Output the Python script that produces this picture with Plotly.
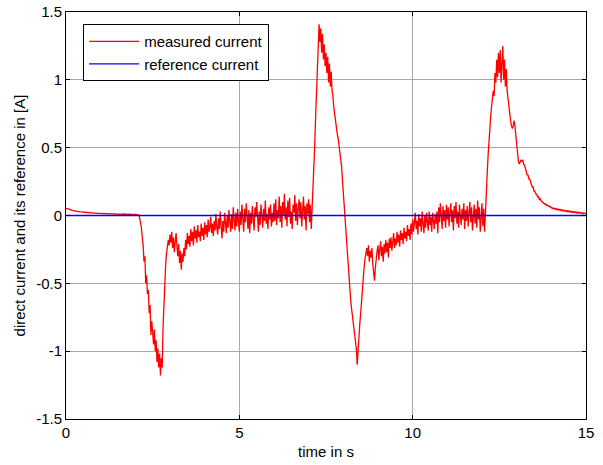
import numpy as np
import plotly.graph_objects as go

# sampled measured current, one value every 0.025 s from 0 to 15 s
dt = 0.025
current = [
    # 0.000 - 0.975
    0.053, 0.050, 0.049, 0.046, 0.046, 0.042, 0.041, 0.038, 0.038, 0.035,
    0.035, 0.032, 0.033, 0.030, 0.031, 0.028, 0.029, 0.027, 0.027, 0.025,
    0.026, 0.023, 0.024, 0.022, 0.023, 0.021, 0.022, 0.020, 0.021, 0.019,
    0.020, 0.018, 0.019, 0.017, 0.018, 0.016, 0.017, 0.016, 0.017, 0.015,
    # 1.000 - 1.975
    0.016, 0.014, 0.016, 0.013, 0.015, 0.014, 0.012, 0.015, 0.013, 0.012,
    0.014, 0.011, 0.013, 0.012, 0.010, 0.013, 0.011, 0.012, 0.010, 0.012,
    0.011, 0.009, 0.012, 0.010, 0.011, 0.009, 0.011, 0.010, 0.008, 0.011,
    0.009, 0.010, 0.008, 0.010, 0.009, 0.007, 0.010, 0.008, 0.009, 0.007,
    # 2.000 - 2.975
    0.009, 0.007, 0.008, 0.006, 0.004, -0.02, -0.05, -0.09, -0.16, -0.22,
    -0.34, -0.30, -0.50, -0.44, -0.58, -0.55, -0.72, -0.66, -0.88, -0.78,
    -0.86, -0.95, -0.84, -1.00, -0.92, -1.08, -0.98, -1.12, -1.02, -1.18,
    -1.05, -1.12, -0.82, -0.62, -0.44, -0.36, -0.28, -0.24, -0.18, -0.22,
    # 3.000 - 3.975
    -0.14, -0.20, -0.12, -0.24, -0.16, -0.27, -0.19, -0.13, -0.22, -0.30,
    -0.21, -0.35, -0.26, -0.40, -0.28, -0.34, -0.24, -0.30, -0.18, -0.25,
    -0.13, -0.21, -0.15, -0.23, -0.10, -0.19, -0.12, -0.22, -0.08, -0.17,
    -0.11, -0.20, -0.07, -0.16, -0.12, -0.19, -0.06, -0.15, -0.09, -0.18,
    # 4.000 - 4.975
    -0.05, -0.14, -0.07, -0.16, -0.03, -0.12, -0.09, -0.01, -0.13, -0.06,
    -0.15, -0.04, -0.11, 0.01, -0.09, -0.14, -0.02, -0.10, 0.03, -0.08,
    -0.17, -0.04, -0.12, 0.02, -0.07, -0.13, 0.00, -0.09, 0.04, -0.06,
    -0.12, 0.01, -0.10, 0.06, -0.05, -0.11, 0.02, -0.08, 0.05, -0.04,
    # 5.000 - 5.975
    -0.12, 0.03, -0.07, 0.08, -0.03, -0.12, 0.05, -0.05, 0.09, -0.02,
    -0.10, 0.04, -0.13, 0.02, -0.06, 0.07, -0.04, -0.11, 0.06, -0.01,
    0.10, -0.05, -0.12, 0.03, -0.07, 0.08, -0.02, -0.09, 0.05, -0.04,
    0.11, -0.06, 0.01, -0.10, 0.06, -0.03, 0.08, -0.08, 0.02, -0.05,
    # 6.000 - 6.975
    0.09, -0.04, 0.12, -0.07, 0.04, -0.02, 0.14, -0.05, 0.07, -0.09,
    0.10, 0.00, 0.16, -0.03, 0.06, -0.08, 0.11, -0.01, 0.13, -0.06,
    0.03, -0.10, 0.08, 0.02, 0.15, -0.04, 0.09, -0.07, 0.05, 0.12,
    -0.02, 0.10, -0.08, 0.06, 0.14, -0.03, 0.07, -0.11, 0.09, 0.01,
    # 7.000 - 7.975
    0.12, -0.05, 0.08, -0.10, 0.04, 0.14, 0.30, 0.52, 0.72, 0.90,
    1.12, 1.38, 1.41, 1.28, 1.38, 1.20, 1.34, 1.15, 1.26, 1.10,
    1.20, 1.05, 1.17, 0.98, 1.12, 0.95, 1.06, 0.92, 0.88, 0.80,
    0.74, 0.70, 0.64, 0.60, 0.57, 0.52, 0.48, 0.44, 0.36, 0.26,
    # 8.000 - 8.975
    0.16, 0.08, 0.02, -0.08, -0.20, -0.34, -0.45, -0.52, -0.58, -0.66,
    -0.72, -0.76, -0.80, -0.86, -0.93, -0.98, -1.10, -0.96, -0.90, -0.80,
    -0.72, -0.62, -0.52, -0.45, -0.38, -0.32, -0.28, -0.24, -0.30, -0.22,
    -0.34, -0.26, -0.31, -0.24, -0.36, -0.42, -0.48, -0.38, -0.30, -0.26,
    # 9.000 - 9.975
    -0.22, -0.33, -0.25, -0.19, -0.30, -0.23, -0.34, -0.21, -0.28, -0.18,
    -0.27, -0.20, -0.31, -0.17, -0.24, -0.16, -0.26, -0.19, -0.13, -0.24,
    -0.17, -0.22, -0.12, -0.20, -0.14, -0.23, -0.11, -0.18, -0.13, -0.21,
    -0.09, -0.17, -0.12, -0.19, -0.07, -0.15, -0.10, -0.18, -0.06, -0.14,
    # 10.000 - 10.975
    -0.03, -0.12, -0.05, 0.02, -0.10, -0.04, -0.14, 0.01, -0.08, -0.02,
    -0.12, 0.03, -0.06, -0.13, 0.00, -0.09, 0.02, -0.05, -0.11, 0.03,
    -0.07, -0.01, -0.12, 0.02, -0.04, -0.10, 0.01, -0.06, 0.03, -0.13,
    0.06, -0.05, 0.09, -0.02, -0.10, 0.07, -0.04, 0.04, -0.09, 0.08,
    # 11.000 - 11.975
    -0.03, 0.06, -0.08, 0.02, 0.09, -0.05, 0.04, -0.11, 0.07, -0.02,
    0.10, -0.06, 0.03, -0.09, 0.08, 0.00, -0.07, 0.05, -0.03, 0.09,
    -0.10, 0.04, -0.04, 0.07, -0.08, 0.02, 0.10, -0.05, 0.06, -0.11,
    0.03, 0.08, -0.06, 0.05, -0.09, 0.11, -0.03, 0.06, -0.12, 0.04,
    # 12.000 - 12.975
    0.09, -0.08, 0.05, -0.12, 0.06, 0.12, 0.31, 0.44, 0.56, 0.62,
    0.73, 0.80, 0.86, 0.92, 0.88, 1.05, 0.98, 1.15, 1.02, 1.20,
    1.05, 1.22, 0.98, 1.18, 1.25, 1.00, 1.15, 0.95, 1.08, 0.92,
    0.85, 0.80, 0.72, 0.70, 0.66, 0.64, 0.66, 0.70, 0.66, 0.58,
    # 13.000 - 13.975
    0.50, 0.44, 0.40, 0.38, 0.39, 0.41, 0.40, 0.41, 0.38, 0.37,
    0.35, 0.33, 0.30, 0.30, 0.27, 0.27, 0.24, 0.23, 0.21, 0.21,
    0.18, 0.18, 0.16, 0.16, 0.14, 0.14, 0.12, 0.125, 0.11, 0.105,
    0.095, 0.095, 0.085, 0.088, 0.075, 0.080, 0.070, 0.072, 0.064, 0.066,
    # 14.000 - 15.000
    0.058, 0.052, 0.056, 0.048, 0.053, 0.045, 0.050, 0.042, 0.047, 0.040,
    0.045, 0.037, 0.043, 0.034, 0.040, 0.032, 0.038, 0.030, 0.036, 0.028,
    0.034, 0.026, 0.032, 0.024, 0.030, 0.022, 0.029, 0.021, 0.027, 0.019,
    0.026, 0.018, 0.024, 0.017, 0.022, 0.015, 0.021, 0.014, 0.019, 0.013,
    0.012,
]
time = np.round(np.arange(len(current)) * dt, 3)

ref_time = [0, 15]
ref_current = [0, 0]

x_ticks = [0, 5, 10, 15]
x_tick_labels = ["0", "5", "10", "15"]
y_ticks = [-1.5, -1, -0.5, 0, 0.5, 1, 1.5]
y_tick_labels = ["-1.5", "-1", "-0.5", "0", "0.5", "1", "1.5"]

font = "Liberation Sans, Arial, sans-serif"
fs = 15

fig = go.Figure()
fig.add_trace(go.Scatter(x=time, y=current, mode="lines", name="measured current",
                         line=dict(color="#ff0000", width=1.3)))
fig.add_trace(go.Scatter(x=ref_time, y=ref_current, mode="lines", name="reference current",
                         line=dict(color="#0000ff", width=1.3)))

axis_common = dict(showline=True, linecolor="black", linewidth=1, mirror="ticks",
                   ticks="inside", ticklen=4, tickcolor="black", automargin=False,
                   showgrid=True, gridcolor="#a8a8a8", gridwidth=1, zeroline=False,
                   tickfont=dict(family=font, size=fs, color="black"))

fig.update_layout(
    width=603, height=465,
    margin=dict(l=66, r=17, t=12, b=46),
    paper_bgcolor="white", plot_bgcolor="white",
    font=dict(family=font, size=fs, color="black"),
    showlegend=True,
    legend=dict(x=0.033, y=0.97, xanchor="left", yanchor="top",
                bordercolor="black", borderwidth=1, bgcolor="white",
                font=dict(family=font, size=fs, color="black"),
                tracegroupgap=0, itemwidth=50),
    xaxis=dict(range=[0, 15], tickvals=x_ticks, ticktext=x_tick_labels,
               title=dict(text="time in s", standoff=6, font=dict(family=font, size=fs)),
               **axis_common),
    yaxis=dict(range=[-1.5, 1.5], tickvals=y_ticks, ticktext=y_tick_labels,
               title=dict(text="direct current and its reference in [A]", standoff=6,
                          font=dict(family=font, size=fs)),
               **axis_common),
)

fig.write_html("out.html")
